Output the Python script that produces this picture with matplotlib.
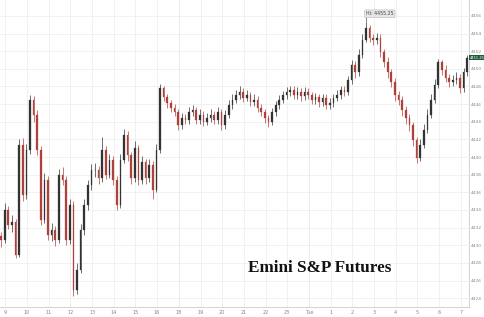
import numpy as np
import matplotlib
matplotlib.use("Agg")
import matplotlib.pyplot as plt

# 10-minute bars
first_open = 4431.0
close = [4430.6, 4434.0, 4432.3, 4432.6, 4428.9, 4441.4, 4435.7, 4440.8, 4446.5, 4444.8,
         4440.8, 4432.9, 4437.4, 4431.2, 4431.7, 4430.6, 4438.0, 4437.4, 4430.6, 4434.6,
         4424.9, 4427.2, 4431.7, 4434.6, 4436.8, 4438.5, 4438.5, 4437.6, 4440.8, 4438.0,
         4439.7, 4437.4, 4434.6, 4439.7, 4442.5, 4440.2, 4437.6, 4441.0, 4437.4, 4439.4,
         4437.6, 4439.1, 4436.3, 4440.8, 4447.8, 4446.8, 4446.1, 4445.6, 4445.1, 4443.6,
         4444.4, 4444.2, 4445.1, 4445.3, 4444.2, 4444.8, 4444.0, 4444.4, 4444.8, 4444.2,
         4445.1, 4443.6, 4444.8, 4445.9, 4446.5, 4447.0, 4447.4, 4446.7, 4447.0, 4446.2,
         4446.5, 4445.6, 4445.1, 4444.4, 4444.0, 4445.1, 4445.9, 4446.5, 4447.0, 4447.4,
         4447.6, 4447.0, 4447.4, 4446.9, 4447.4, 4447.0, 4446.5, 4446.8, 4446.2, 4446.7,
         4445.9, 4446.1, 4446.7, 4447.0, 4447.6, 4447.4, 4448.7, 4450.4, 4449.6, 4451.6,
         4453.3, 4454.6, 4453.5, 4453.3, 4453.5, 4451.9, 4450.8, 4449.6, 4448.5, 4447.0,
         4446.5, 4445.3, 4444.4, 4443.6, 4441.9, 4439.9, 4441.4, 4443.1, 4444.8, 4446.5,
         4448.2, 4450.8, 4449.9, 4449.0, 4448.5, 4448.7, 4449.0, 4447.8, 4449.6, 4451.2]
high = [4431.5, 4434.8, 4434.5, 4433.4, 4433.0, 4442.0, 4442.2, 4441.5, 4447.0, 4446.9,
        4445.3, 4441.2, 4438.2, 4437.9, 4432.5, 4432.2, 4438.7, 4438.9, 4437.8, 4435.3,
        4435.0, 4428.0, 4432.4, 4435.3, 4437.4, 4439.2, 4439.3, 4439.0, 4442.3, 4441.2,
        4440.4, 4440.1, 4437.8, 4440.3, 4443.2, 4442.9, 4440.6, 4441.8, 4441.4, 4440.1,
        4439.8, 4439.8, 4439.5, 4441.5, 4448.3, 4448.1, 4447.2, 4446.5, 4446.0, 4445.4,
        4445.0, 4444.9, 4445.7, 4445.9, 4445.7, 4445.4, 4445.2, 4445.0, 4445.4, 4445.2,
        4445.7, 4445.5, 4445.3, 4446.5, 4447.1, 4447.6, 4448.0, 4447.8, 4447.6, 4447.4,
        4447.1, 4446.9, 4446.0, 4445.5, 4444.8, 4445.6, 4446.4, 4447.0, 4447.5, 4447.9,
        4448.1, 4448.0, 4447.9, 4447.8, 4447.9, 4447.8, 4447.4, 4447.3, 4447.2, 4447.2,
        4447.1, 4446.7, 4447.2, 4447.6, 4448.1, 4448.0, 4449.2, 4451.0, 4450.9, 4452.2,
        4453.9, 4455.25, 4455.0, 4454.0, 4454.1, 4453.9, 4452.3, 4451.3, 4450.0, 4449.0,
        4447.5, 4446.9, 4445.8, 4444.9, 4444.0, 4442.3, 4442.0, 4443.7, 4445.4, 4447.1,
        4448.8, 4451.1, 4451.0, 4450.4, 4449.4, 4449.3, 4449.6, 4449.4, 4450.1, 4451.6]
low = [4429.8, 4430.2, 4431.8, 4431.5, 4428.5, 4428.7, 4435.0, 4435.2, 4440.3, 4444.0,
       4440.2, 4432.3, 4432.5, 4430.6, 4430.5, 4429.9, 4430.2, 4436.8, 4430.0, 4430.1,
       4424.2, 4424.5, 4426.8, 4431.2, 4434.0, 4436.3, 4437.7, 4437.0, 4437.2, 4437.5,
       4437.6, 4436.8, 4434.0, 4434.2, 4439.3, 4439.6, 4437.0, 4437.2, 4436.8, 4437.0,
       4437.0, 4437.2, 4435.2, 4436.0, 4440.5, 4446.3, 4445.6, 4445.1, 4444.6, 4443.1,
       4443.2, 4443.7, 4443.8, 4444.7, 4443.8, 4443.8, 4443.5, 4443.6, 4444.0, 4443.8,
       4443.8, 4443.1, 4443.2, 4444.4, 4445.5, 4446.1, 4446.6, 4446.2, 4446.3, 4445.8,
       4445.8, 4445.1, 4444.6, 4443.9, 4443.4, 4443.6, 4444.7, 4445.5, 4446.1, 4446.6,
       4446.9, 4446.6, 4446.6, 4446.4, 4446.5, 4446.6, 4446.0, 4446.0, 4445.7, 4445.8,
       4445.4, 4445.4, 4445.7, 4446.3, 4446.6, 4446.9, 4447.0, 4448.3, 4449.0, 4449.2,
       4451.2, 4453.0, 4453.0, 4452.7, 4452.8, 4451.3, 4450.2, 4449.0, 4447.9, 4446.4,
       4445.9, 4444.7, 4443.8, 4443.0, 4441.3, 4439.3, 4439.5, 4441.0, 4442.7, 4444.4,
       4446.1, 4447.8, 4449.3, 4448.5, 4447.9, 4448.0, 4448.3, 4447.3, 4447.4, 4449.2]

hour_labels = ['9', '10', '11', '12', '13', '14', '15', '16', '18', '19', '20', '21',
               '22', '23', 'Tue', '1', '2', '3', '4', '5', '6', '7']
y_ticks = list(range(4424, 4457, 2))
hi_value = 4455.25
last_value = 4451.25
title = 'Emini S&P Futures'

close = np.array(close)
high = np.array(high)
low = np.array(low)
opn = np.r_[first_open, close[:-1]]
x = np.arange(len(close))

fig = plt.figure(figsize=(4.85, 3.17), dpi=100)
ax = fig.add_axes([0, 0.0315, 0.967, 0.9685])

up_col, dn_col = '#333333', '#b0403a'
for xi, o, c, h, l in zip(x, opn, close, high, low):
    col = up_col if c >= o else dn_col
    ax.vlines(xi, l, h, color=col, lw=0.5, zorder=3)
    ax.bar(xi, max(abs(c - o), 0.08), bottom=min(o, c), width=0.45,
           color=col, edgecolor=col, lw=0.2, zorder=4)

tick_pos = [1.2 + 6 * k for k in range(len(hour_labels))]
ax.set_xticks(tick_pos)
ax.set_xticklabels(hour_labels)
ax.set_yticks(y_ticks)
ax.set_xlim(-0.3, 129.5)
ax.set_ylim(4423.0, 4457.8)

ax.grid(True, color='#efefef', lw=0.6, zorder=0)
# session breaks
for k in (8, 14):
    ax.axvline(tick_pos[k], color='#d6d6d6', lw=0.7, zorder=1)

ax.yaxis.tick_right()
ax.tick_params(axis='x', labelsize=3.6, colors='#888888', length=0, pad=2)
ax.tick_params(axis='y', labelsize=3.2, colors='#888888', length=0, pad=1.5)
for s in ('top', 'left'):
    ax.spines[s].set_visible(False)
for s in ('bottom', 'right'):
    ax.spines[s].set_color('#cccccc')
    ax.spines[s].set_linewidth(0.6)

# high marker
hi_i = int(np.argmax(high))
ax.vlines(hi_i, hi_value, hi_value + 0.7, color='#555555', lw=0.5, zorder=5)
ax.text(hi_i, hi_value + 0.7, f'Hi: {hi_value:.2f}', fontsize=3.4, color='#444444',
        ha='left', va='bottom', zorder=6,
        bbox=dict(boxstyle='round,pad=0.3', fc='#e6e6e6', ec='#bbbbbb', lw=0.4))

# last price tag
ax.text(1.002, (last_value - 4423.0) / (4457.8 - 4423.0), f'{last_value:.2f}',
        transform=ax.transAxes, fontsize=2.6, color='white', ha='left', va='center',
        bbox=dict(boxstyle='square,pad=0.15', fc='#1f5c3a', ec='none'), zorder=6)

fig.text(248 / 485, 1 - 268 / 317, title, fontsize=12.3, fontweight='bold',
         family='Liberation Serif', color='#111111', va='center', ha='left')

fig.savefig('out.png', dpi=100)
